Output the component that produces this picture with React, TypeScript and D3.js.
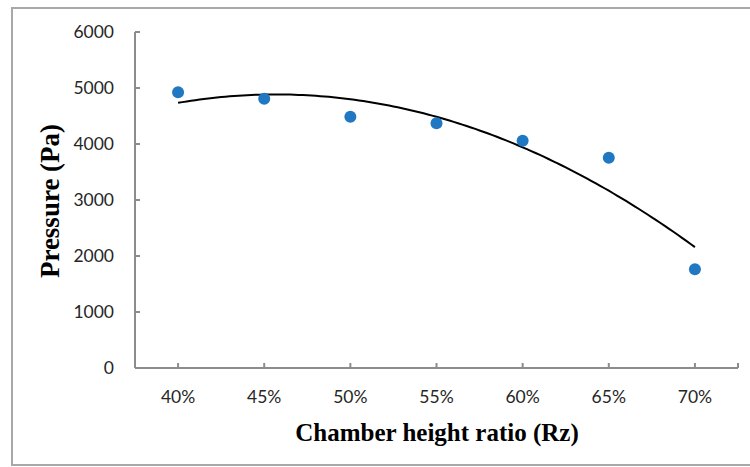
import React from "react";
import * as d3 from "d3";

const categories: string[] = ["40%", "45%", "50%", "55%", "60%", "65%", "70%"];
const pressure: number[] = [4923, 4810, 4488, 4369, 4060, 3756, 1762];
const yTicks: number[] = [0, 1000, 2000, 3000, 4000, 5000, 6000];
const xTitle = "Chamber height ratio (Rz)";
const yTitle = "Pressure (Pa)";

// least-squares quadratic fit (Excel polynomial trendline, order 2) on x = 1..n
function quadFit(ys: number[]) {
  const n = ys.length;
  const xs = ys.map((_, i) => i + 1);
  let s0 = n, s1 = 0, s2 = 0, s3 = 0, s4 = 0, t0 = 0, t1 = 0, t2 = 0;
  xs.forEach((x, i) => {
    const y = ys[i];
    s1 += x; s2 += x * x; s3 += x ** 3; s4 += x ** 4;
    t0 += y; t1 += x * y; t2 += x * x * y;
  });
  const M = [
    [s0, s1, s2, t0],
    [s1, s2, s3, t1],
    [s2, s3, s4, t2],
  ];
  for (let i = 0; i < 3; i++) {
    for (let k = i + 1; k < 3; k++) {
      const f = M[k][i] / M[i][i];
      for (let j = i; j < 4; j++) M[k][j] -= f * M[i][j];
    }
  }
  const c = [0, 0, 0];
  for (let i = 2; i >= 0; i--) {
    let s = M[i][3];
    for (let j = i + 1; j < 3; j++) s -= M[i][j] * c[j];
    c[i] = s / M[i][i];
  }
  return (x: number) => c[0] + c[1] * x + c[2] * x * x;
}

export default function App() {
  const W = 750, H = 467;
  const left = 135, right = 738, top = 32, bottom = 368;

  const x = d3.scaleBand<string>().domain(categories).range([left, right]).padding(0);
  const y = d3.scaleLinear().domain([0, 6000]).range([bottom, top]);
  const cx = (c: string) => (x(c) as number) + x.bandwidth() / 2;

  const fit = quadFit(pressure);
  const xi = d3.scaleLinear().domain([1, categories.length]).range([cx(categories[0]), cx(categories[categories.length - 1])]);
  const samples = d3.range(1, categories.length + 0.0001, 0.05);
  const line = d3.line<number>().x((t) => xi(t)).y((t) => y(fit(t))).curve(d3.curveLinear);

  const axisColor = "#8c8c8c";
  const tickFont = "Lato, 'Open Sans', sans-serif";
  const titleFont = "'Liberation Serif', 'Times New Roman', serif";

  return (
    <svg width={W} height={H} style={{ position: "absolute", left: 0, top: 0, background: "#fff" }}>
      <rect x={12} y={8} width={W} height={457} fill="#fff" stroke="#a8a8a8" strokeWidth={2} />

      {/* y axis */}
      <line x1={left} x2={left} y1={top} y2={bottom} stroke={axisColor} strokeWidth={2} />
      {yTicks.map((t) => (
        <g key={t}>
          <line x1={left} x2={left + 5} y1={y(t)} y2={y(t)} stroke={axisColor} strokeWidth={2} />
          <text x={114} y={y(t)} dy="0.35em" textAnchor="end" fontFamily={tickFont} fontSize={17.5} fill="#262626">
            {t}
          </text>
        </g>
      ))}

      {/* x axis */}
      <line x1={left} x2={right} y1={bottom} y2={bottom} stroke={axisColor} strokeWidth={2} />
      {categories.map((c) => (
        <g key={c}>
          <line x1={cx(c)} x2={cx(c)} y1={bottom} y2={bottom - 5} stroke={axisColor} strokeWidth={2} />
          <text x={cx(c)} y={403} textAnchor="middle" fontFamily={tickFont} fontSize={17.5} fill="#262626">
            {c}
          </text>
        </g>
      ))}
      <line x1={right} x2={right} y1={bottom} y2={bottom - 5} stroke={axisColor} strokeWidth={2} />

      {/* trendline */}
      <path d={line(samples) || ""} fill="none" stroke="#000" strokeWidth={2} />

      {/* points */}
      {categories.map((c, i) => (
        <circle key={c} cx={cx(c)} cy={y(pressure[i])} r={6} fill="#1f78c1" />
      ))}

      {/* titles */}
      <text x={437} y={441} textAnchor="middle" fontFamily={titleFont} fontWeight="bold" fontSize={25} fill="#000">
        {xTitle}
      </text>
      <text
        transform={`translate(59, 201) rotate(-90)`}
        textAnchor="middle"
        fontFamily={titleFont}
        fontWeight="bold"
        fontSize={27}
        fill="#000"
      >
        {yTitle}
      </text>
    </svg>
  );
}
